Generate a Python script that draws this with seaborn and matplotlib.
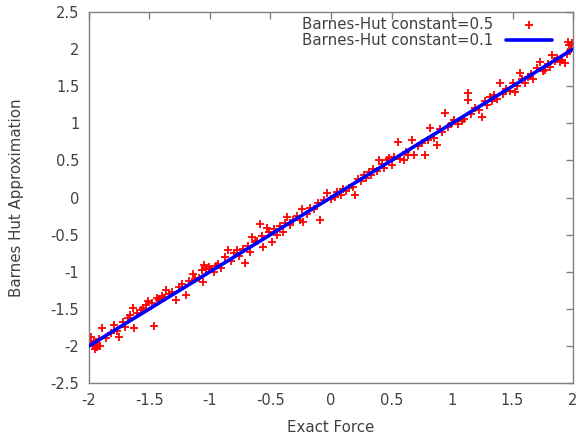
import matplotlib
matplotlib.use("Agg")
import matplotlib.pyplot as plt
import seaborn as sns
import pandas as pd

# Barnes-Hut approximation (theta = 0.5) against the exact force
exact_05 = [
    -1.99, -1.98, -1.97, -1.96, -1.95, -1.94, -1.93, -1.92, -1.91, -1.89,
    -1.86, -1.82, -1.79, -1.77, -1.75, -1.72, -1.70, -1.68, -1.66, -1.64,
    -1.63, -1.60, -1.57, -1.55, -1.53, -1.51, -1.48, -1.46, -1.44, -1.42,
    -1.40, -1.38, -1.36, -1.34, -1.31, -1.28, -1.26, -1.23, -1.20, -1.17,
    -1.14, -1.12, -1.09, -1.07, -1.06, -1.05, -1.03, -1.01, -0.99, -0.97,
    -0.95, -0.93, -0.91, -0.88, -0.85, -0.83, -0.80, -0.78, -0.76, -0.73,
    -0.71, -0.69, -0.67, -0.65, -0.63, -0.61, -0.59, -0.57, -0.56, -0.53,
    -0.51, -0.49, -0.47, -0.45, -0.42, -0.40, -0.38, -0.36, -0.34, -0.31,
    -0.28, -0.26, -0.24, -0.23, -0.20, -0.17, -0.14, -0.11, -0.09, -0.06,
    -0.03, 0.00, 0.03, 0.05, 0.08, 0.10, 0.12, 0.15, 0.18, 0.20,
    0.22, 0.25, 0.27, 0.29, 0.31, 0.33, 0.35, 0.38, 0.40, 0.42,
    0.44, 0.46, 0.48, 0.50, 0.52, 0.55, 0.57, 0.60, 0.62, 0.64,
    0.67, 0.69, 0.72, 0.75, 0.78, 0.80, 0.82, 0.85, 0.88, 0.90,
    0.92, 0.94, 0.97, 1.00, 1.02, 1.05, 1.08, 1.10, 1.13, 1.13,
    1.16, 1.19, 1.22, 1.25, 1.27, 1.29, 1.31, 1.33, 1.35, 1.37,
    1.40, 1.42, 1.45, 1.48, 1.50, 1.52, 1.54, 1.56, 1.58, 1.60,
    1.63, 1.65, 1.67, 1.70, 1.73, 1.75, 1.77, 1.79, 1.81, 1.83,
    1.85, 1.87, 1.89, 1.91, 1.93, 1.95, 1.96, 1.97, 1.98, 1.99,
]
approx_05 = [
    -1.93, -1.88, -2.00, -1.95, -2.04, -1.98, -2.02, -1.91, -2.00, -1.76,
    -1.90, -1.83, -1.72, -1.80, -1.88, -1.68, -1.75, -1.62, -1.58, -1.49,
    -1.76, -1.55, -1.52, -1.49, -1.45, -1.39, -1.42, -1.73, -1.36, -1.38,
    -1.33, -1.35, -1.25, -1.30, -1.28, -1.38, -1.20, -1.17, -1.31, -1.12,
    -1.03, -1.10, -1.08, -0.98, -1.14, -0.91, -0.97, -0.94, -0.96, -1.00,
    -0.92, -0.90, -0.95, -0.80, -0.71, -0.86, -0.75, -0.71, -0.79, -0.70,
    -0.88, -0.66, -0.74, -0.53, -0.60, -0.58, -0.36, -0.52, -0.67, -0.41,
    -0.47, -0.60, -0.43, -0.50, -0.39, -0.47, -0.35, -0.26, -0.37, -0.30,
    -0.25, -0.30, -0.15, -0.33, -0.22, -0.14, -0.16, -0.08, -0.30, -0.04,
    0.06, -0.02, 0.01, 0.08, 0.04, 0.12, 0.09, 0.13, 0.14, 0.03,
    0.25, 0.22, 0.30, 0.26, 0.34, 0.30, 0.38, 0.36, 0.50, 0.45,
    0.40, 0.50, 0.53, 0.44, 0.55, 0.75, 0.52, 0.50, 0.62, 0.57,
    0.77, 0.57, 0.70, 0.73, 0.57, 0.78, 0.94, 0.80, 0.71, 0.92,
    0.88, 1.14, 0.95, 1.00, 1.05, 0.99, 1.03, 1.06, 1.41, 1.31,
    1.12, 1.20, 1.18, 1.08, 1.30, 1.25, 1.36, 1.30, 1.38, 1.33,
    1.54, 1.40, 1.46, 1.44, 1.55, 1.42, 1.50, 1.68, 1.60, 1.55,
    1.62, 1.66, 1.60, 1.75, 1.83, 1.70, 1.72, 1.80, 1.76, 1.92,
    1.84, 1.88, 1.83, 1.85, 1.81, 1.93, 2.10, 2.05, 2.00, 2.08,
]

# Barnes-Hut approximation (theta = 0.1), nearly exact
exact_01 = [-2.0, -1.6, -1.2, -0.8, -0.4, 0.0, 0.4, 0.8, 1.2, 1.6, 2.0]
approx_01 = [-2.0, -1.6, -1.2, -0.8, -0.4, 0.0, 0.4, 0.8, 1.2, 1.6, 2.0]

ticks_x = [-2, -1.5, -1, -0.5, 0, 0.5, 1, 1.5, 2]
ticks_y = [-2.5, -2, -1.5, -1, -0.5, 0, 0.5, 1, 1.5, 2, 2.5]

sns.set_theme(style="white")
plt.rcParams["font.family"] = ["DejaVu Sans"]

axis_grey = "#808080"
text_grey = "#404040"

fig = plt.figure(figsize=(5.76, 4.4), dpi=100)
ax = fig.add_axes([0.1545, 0.1295, 0.8403, 0.8432])

pts = pd.DataFrame({"x": exact_05, "y": approx_05})
line = pd.DataFrame({"x": exact_01, "y": approx_01})

sns.scatterplot(data=pts, x="x", y="y", ax=ax, marker="+", s=32,
                color="#ff0000", linewidth=1.3,
                label="Barnes-Hut constant=0.5", zorder=2)
sns.lineplot(data=line, x="x", y="y", ax=ax, color="#0000ff", linewidth=2.6,
             label="Barnes-Hut constant=0.1", zorder=3, estimator=None, sort=False)

ax.set_xlim(-2, 2)
ax.set_ylim(-2.5, 2.5)
ax.set_xticks(ticks_x)
ax.set_xticklabels([f"{t:g}" for t in ticks_x])
ax.set_yticks(ticks_y)
ax.set_yticklabels([f"{t:g}" for t in ticks_y])

for side in ["left", "right", "top", "bottom"]:
    ax.spines[side].set_visible(True)
    ax.spines[side].set_color(axis_grey)
    ax.spines[side].set_linewidth(1.0)

ax.tick_params(axis="both", direction="in", length=5, width=1.0,
               color=axis_grey, labelcolor=text_grey, labelsize=10.5,
               top=True, right=True, pad=7)

ax.set_xlabel("Exact Force", fontsize=10.8, color=text_grey, labelpad=9)
ax.set_ylabel("Barnes Hut Approximation", fontsize=10.8, color=text_grey, labelpad=19)

leg = ax.legend(loc="upper right", bbox_to_anchor=(0.969, 1.004), frameon=False,
                markerfirst=False, fontsize=10.8, handlelength=3.1,
                labelspacing=0.12, handletextpad=0.8, borderaxespad=0.0,
                markerscale=1.1)
for txt in leg.get_texts():
    txt.set_color(text_grey)

fig.savefig("out.png", dpi=100)
